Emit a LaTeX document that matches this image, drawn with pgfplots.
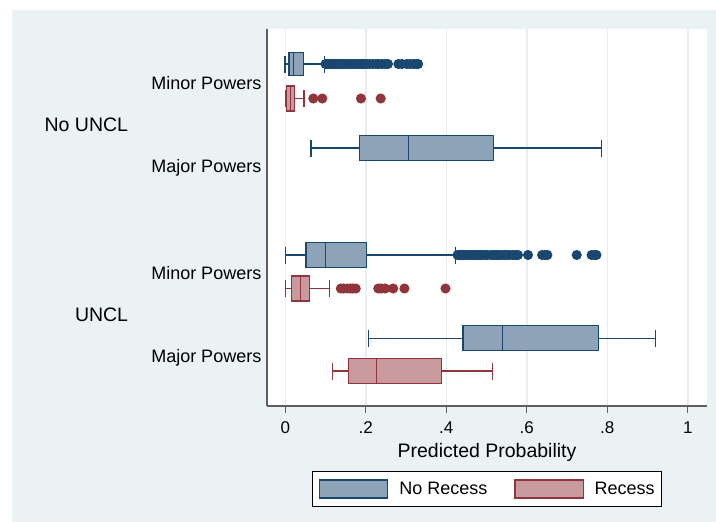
\documentclass[border=0pt]{standalone}
\usepackage{fontspec}
\setmainfont{Liberation Sans}
\usepackage{pgfplots}
\pgfplotsset{compat=1.18}
\usepgfplotslibrary{statistics}
\definecolor{bgc}{RGB}{234,242,243}
\definecolor{gridc}{RGB}{230,238,241}
\definecolor{navy}{RGB}{26,71,111}
\definecolor{maroon}{RGB}{144,53,59}
\definecolor{navyfill}{RGB}{141,163,183}
\definecolor{maroonfill}{RGB}{200,154,157}
\definecolor{axc}{RGB}{95,95,95}
\begin{document}
\begin{tikzpicture}
\path[use as bounding box, fill=white] (-267pt,-116pt) rectangle (449pt,406pt);
\fill[bgc] (-255pt,-116pt) rectangle (449pt,396pt);
\begin{axis}[
  scale only axis, width=440pt, height=377pt,
  xmin=-0.0455, xmax=1.0477, ymin=29, ymax=406, y dir=reverse,
  clip=false,
  axis background/.style={fill=white},
  axis x line*=bottom, axis y line*=left,
  axis line style={-, draw=axc, line width=1.1pt},
  xtick={0,0.2,0.4,0.6,0.8,1}, xticklabels={0,.2,.4,.6,.8,1},
  xmajorgrids, grid style={draw=gridc, line width=1.6pt},
  tick align=outside, major tick length=6.5pt,
  x tick style={draw=axc, line width=1.1pt},
  x tick label style={font=\fontsize{17}{19}\selectfont, anchor=base, yshift=-21pt},
  ytick={89.3,172.7,279.3,362.7},
  yticklabels={Minor Powers,Major Powers,Minor Powers,Major Powers},
  y tick style={draw=none},
  y tick label style={font=\fontsize{18}{20}\selectfont, anchor=base east, inner sep=0pt, xshift=1pt},
  xlabel={Predicted Probability},
  xlabel style={font=\fontsize{19.5}{22}\selectfont, at={(axis description cs:0.5,0)}, anchor=base, yshift=-51.7pt},
  boxplot/draw direction=x,
  legend style={at={(0.5,0)}, anchor=north, yshift=-65pt, draw=black, line width=0.8pt, fill=white,
    font=\fontsize{18}{20}\selectfont, inner xsep=7pt, inner ysep=8pt, nodes={inner sep=0pt},
    /tikz/every odd column/.append style={column sep=11pt},
    /tikz/every even column/.append style={column sep=27pt}},
  legend columns=2, legend cell align=left,
]
\addlegendimage{legend image code/.code={\draw[draw=navy,fill=navyfill,line width=1.2pt] (0pt,-9pt) rectangle (68pt,9pt);}}
\addlegendentry{No Recess}
\addlegendimage{legend image code/.code={\draw[draw=maroon,fill=maroonfill,line width=1.2pt] (0pt,-9pt) rectangle (68pt,9pt);}}
\addlegendentry{Recess}

% No UNCL, Minor Powers, No Recess
\addplot[forget plot, draw=navy, fill=navyfill, line width=1.25pt, mark=*, mark size=4.4pt,
  mark options={draw=none, fill=navy},
  boxplot prepared={draw position=64, box extend=23, whisker extend=17,
    lower whisker=-0.001, lower quartile=0.0092, median=0.0199, upper quartile=0.0447, upper whisker=0.0969}]
  table[row sep=\\, y index=0] {data\\ 0.100\\ 0.104\\ 0.108\\ 0.112\\ 0.116\\ 0.120\\ 0.125\\ 0.130\\ 0.135\\ 0.140\\ 0.145\\ 0.150\\ 0.155\\ 0.160\\ 0.166\\ 0.172\\ 0.178\\ 0.185\\ 0.190\\ 0.196\\ 0.203\\ 0.210\\ 0.218\\ 0.226\\ 0.232\\ 0.240\\ 0.248\\ 0.255\\ 0.281\\ 0.290\\ 0.302\\ 0.310\\ 0.318\\ 0.325\\ 0.330\\};
% No UNCL, Minor Powers, Recess
\addplot[forget plot, draw=maroon, fill=maroonfill, line width=1.25pt, mark=*, mark size=4.4pt,
  mark options={draw=none, fill=maroon},
  boxplot prepared={draw position=98.5, box extend=25, whisker extend=17,
    lower whisker=0.001, lower quartile=0.0035, median=0.0134, upper quartile=0.0224, upper whisker=0.0465}]
  table[row sep=\\, y index=0] {data\\ 0.0696\\ 0.0919\\ 0.188\\ 0.237\\};
% No UNCL, Major Powers, No Recess
\addplot[forget plot, draw=navy, fill=navyfill, line width=1.25pt,
  boxplot prepared={draw position=148, box extend=25, whisker extend=17,
    lower whisker=0.0639, lower quartile=0.185, median=0.307, upper quartile=0.517, upper whisker=0.785}]
  coordinates {};
% UNCL, Minor Powers, No Recess
\addplot[forget plot, draw=navy, fill=navyfill, line width=1.25pt, mark=*, mark size=4.4pt,
  mark options={draw=none, fill=navy},
  boxplot prepared={draw position=255, box extend=25, whisker extend=17,
    lower whisker=0.001, lower quartile=0.0514, median=0.100, upper quartile=0.201, upper whisker=0.423}]
  table[row sep=\\, y index=0] {data\\ 0.428\\ 0.433\\ 0.438\\ 0.443\\ 0.449\\ 0.455\\ 0.460\\ 0.466\\ 0.472\\ 0.478\\ 0.484\\ 0.490\\ 0.497\\ 0.503\\ 0.512\\ 0.518\\ 0.524\\ 0.530\\ 0.537\\ 0.544\\ 0.550\\ 0.557\\ 0.565\\ 0.572\\ 0.578\\ 0.603\\ 0.638\\ 0.645\\ 0.651\\ 0.724\\ 0.761\\ 0.768\\ 0.773\\};
% UNCL, Minor Powers, Recess
\addplot[forget plot, draw=maroon, fill=maroonfill, line width=1.25pt, mark=*, mark size=4.4pt,
  mark options={draw=none, fill=maroon},
  boxplot prepared={draw position=288.5, box extend=25, whisker extend=17,
    lower whisker=0.001, lower quartile=0.016, median=0.038, upper quartile=0.061, upper whisker=0.109}]
  table[row sep=\\, y index=0] {data\\ 0.138\\ 0.145\\ 0.154\\ 0.162\\ 0.168\\ 0.175\\ 0.231\\ 0.238\\ 0.248\\ 0.268\\ 0.296\\ 0.398\\};
% UNCL, Major Powers, No Recess
\addplot[forget plot, draw=navy, fill=navyfill, line width=1.25pt,
  boxplot prepared={draw position=338.3, box extend=25, whisker extend=17,
    lower whisker=0.206, lower quartile=0.4415, median=0.539, upper quartile=0.7786, upper whisker=0.920}]
  coordinates {};
% UNCL, Major Powers, Recess
\addplot[forget plot, draw=maroon, fill=maroonfill, line width=1.25pt,
  boxplot prepared={draw position=371, box extend=25, whisker extend=17,
    lower whisker=0.118, lower quartile=0.1565, median=0.227, upper quartile=0.3886, upper whisker=0.515}]
  coordinates {};

\node[anchor=base east, inner sep=0pt, font=\fontsize{19.5}{22}\selectfont] at (axis cs:-0.3901,131) {No UNCL};
\node[anchor=base east, inner sep=0pt, font=\fontsize{19.5}{22}\selectfont] at (axis cs:-0.3901,321) {UNCL};
\end{axis}
\end{tikzpicture}
\end{document}
